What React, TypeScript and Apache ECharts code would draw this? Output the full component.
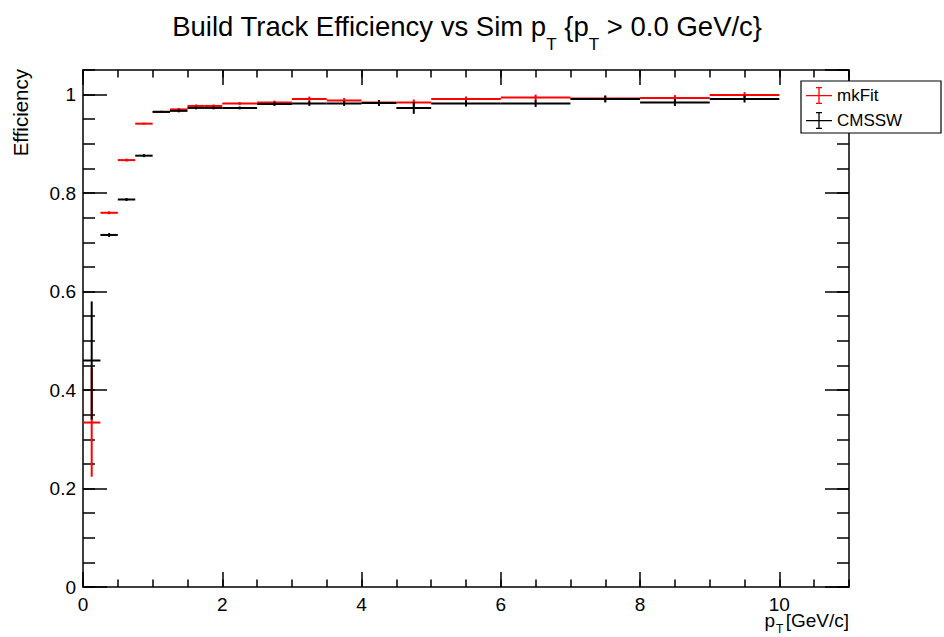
import React, { useEffect, useRef } from 'react';
import * as echarts from 'echarts';

// Bin edges (GeV/c)
const binLow = [0, 0.25, 0.5, 0.75, 1.0, 1.25, 1.5, 1.75, 2.0, 2.5, 3.0, 3.5, 4.0, 4.5, 5, 6, 7, 8, 9];
const binHigh = [0.25, 0.5, 0.75, 1.0, 1.25, 1.5, 1.75, 2.0, 2.5, 3.0, 3.5, 4.0, 4.5, 5.0, 6, 7, 8, 9, 10];

// mkFit efficiency and errors
const mkFitEff = [0.334, 0.760, 0.867, 0.941, 0.965, 0.970, 0.977, 0.977, 0.982, 0.984, 0.991, 0.988, 0.984, 0.984, 0.991, 0.994, 0.992, 0.993, 0.999];
const mkFitErr = [0.110, 0.003, 0.003, 0.002, 0.002, 0.003, 0.003, 0.003, 0.003, 0.004, 0.005, 0.005, 0.005, 0.006, 0.005, 0.006, 0.006, 0.006, 0.006];

// CMSSW efficiency and errors
const cmsswEff = [0.460, 0.715, 0.787, 0.876, 0.965, 0.967, 0.973, 0.973, 0.973, 0.981, 0.982, 0.982, 0.983, 0.973, 0.982, 0.982, 0.991, 0.984, 0.991];
const cmsswErr = [0.120, 0.004, 0.003, 0.003, 0.002, 0.003, 0.003, 0.003, 0.003, 0.004, 0.005, 0.005, 0.006, 0.012, 0.006, 0.007, 0.007, 0.007, 0.007];

const seriesNames = ['mkFit', 'CMSSW'];
const seriesColors = ['#ff0000', '#000000'];

const FONT = '"Liberation Sans", Arial, Helvetica, sans-serif';

const LEGEND_ICON =
  'path://M0,7.9h26v1.3H0z M12.35,0h1.3v17h-1.3z M10,0h6v1.2h-6z M10,15.8h6v1.2h-6z';

function buildData(eff: number[], err: number[]) {
  return eff.map((v, i) => [binLow[i], binHigh[i], v, err[i]]);
}

function makeRenderItem(color: string) {
  return (params: any, api: any) => {
    const lo = api.value(0);
    const hi = api.value(1);
    const v = api.value(2);
    const e = api.value(3);
    const mid = (lo + hi) / 2;
    const pL = api.coord([lo, v]);
    const pR = api.coord([hi, v]);
    const pT = api.coord([mid, v + e]);
    const pB = api.coord([mid, v - e]);
    return {
      type: 'group',
      children: [
        {
          type: 'line',
          shape: { x1: pL[0], y1: pL[1], x2: pR[0], y2: pR[1] },
          style: { stroke: color, lineWidth: 2 },
        },
        {
          type: 'line',
          shape: { x1: pT[0], y1: pT[1], x2: pB[0], y2: pB[1] },
          style: { stroke: color, lineWidth: 2 },
        },
      ],
    };
  };
}

function xAxisDef(position: 'bottom' | 'top', major: boolean) {
  return {
    type: 'value',
    position,
    min: 0,
    max: 11,
    interval: major ? 2 : 0.5,
    axisLine: { show: major, onZero: false, lineStyle: { color: '#000', width: 1.5 } },
    axisTick: { show: true, inside: true, length: major ? 15 : 7.5, lineStyle: { color: '#000', width: 1.5 } },
    axisLabel: {
      show: major && position === 'bottom',
      fontSize: 19,
      color: '#000',
      margin: 8,
      fontFamily: FONT,
      showMaxLabel: false,
    },
    splitLine: { show: false },
  };
}

function yAxisDef(position: 'left' | 'right', major: boolean) {
  return {
    type: 'value',
    position,
    min: 0,
    max: 1.05,
    interval: major ? 0.2 : 0.05,
    axisLine: { show: major, onZero: false, lineStyle: { color: '#000', width: 1.5 } },
    axisTick: { show: true, inside: true, length: major ? 24 : 12, lineStyle: { color: '#000', width: 1.5 } },
    axisLabel: {
      show: major && position === 'left',
      fontSize: 19,
      color: '#000',
      margin: 7,
      fontFamily: FONT,
      showMaxLabel: false,
    },
    splitLine: { show: false },
  };
}

export default function App() {
  const ref = useRef<HTMLDivElement>(null);

  useEffect(() => {
    if (!ref.current) return;
    const chart = echarts.init(ref.current, undefined, { renderer: 'svg' });
    const option: any = {
      animation: false,
      backgroundColor: '#fff',
      grid: { left: 83, right: 95, top: 70, bottom: 50, containLabel: false },
      xAxis: [
        xAxisDef('bottom', true),
        xAxisDef('bottom', false),
        xAxisDef('top', true),
        xAxisDef('top', false),
      ],
      yAxis: [
        yAxisDef('left', true),
        yAxisDef('left', false),
        yAxisDef('right', true),
        yAxisDef('right', false),
      ],
      legend: {
        show: true,
        left: 801,
        top: 81,
        orient: 'vertical',
        padding: [6, 5, 4, 5],
        itemWidth: 26,
        itemHeight: 17,
        itemGap: 8,
        borderWidth: 0,
        backgroundColor: 'transparent',
        z: 10,
        textStyle: { fontSize: 17, color: '#000', fontFamily: FONT },
        itemStyle: { borderWidth: 0 },
        data: seriesNames.map((n) => ({ name: n, icon: LEGEND_ICON })),
      },
      graphic: [
        {
          type: 'rect',
          z: 5,
          shape: { x: 801, y: 81, width: 140, height: 52 },
          style: { fill: '#fff', stroke: '#000', lineWidth: 1.2 },
        },
        {
          type: 'text',
          x: 467,
          y: 26,
          style: {
            text: '{a|Build Track Efficiency vs Sim p}{s|T}{a| {p}{s|T}{a| > 0.0 GeV/c}}',
            align: 'center',
            verticalAlign: 'middle',
            fontFamily: FONT,
            fontSize: 27.5,
            fill: '#000',
            rich: {
              a: { fontSize: 27.5, fontFamily: FONT, fill: '#000' },
              s: { fontSize: 17, fontFamily: FONT, fill: '#000', padding: [36, 0, 0, 0] },
            },
          },
        },
        // x-axis title: p_T [GeV/c]
        {
          type: 'text',
          x: 849,
          y: 620,
          style: {
            text: '[GeV/c]',
            align: 'right',
            verticalAlign: 'middle',
            fontFamily: FONT,
            fontSize: 19,
            fill: '#000',
          },
        },
        {
          type: 'text',
          x: 776,
          y: 629,
          style: {
            text: 'T',
            align: 'left',
            verticalAlign: 'middle',
            fontFamily: FONT,
            fontSize: 12,
            fill: '#000',
          },
        },
        {
          type: 'text',
          x: 775,
          y: 620,
          style: {
            text: 'p',
            align: 'right',
            verticalAlign: 'middle',
            fontFamily: FONT,
            fontSize: 19,
            fill: '#000',
          },
        },
        {
          type: 'text',
          x: 20,
          y: 69,
          rotation: Math.PI / 2,
          style: {
            text: 'Efficiency',
            align: 'right',
            verticalAlign: 'middle',
            fontFamily: FONT,
            fontSize: 20.5,
            fill: '#000',
          },
        },
      ],
      series: [
        {
          name: seriesNames[0],
          type: 'custom',
          xAxisIndex: 0,
          yAxisIndex: 0,
          itemStyle: { color: seriesColors[0] },
          encode: { x: [0, 1], y: [2] },
          renderItem: makeRenderItem(seriesColors[0]),
          data: buildData(mkFitEff, mkFitErr),
          z: 3,
        },
        {
          name: seriesNames[1],
          type: 'custom',
          xAxisIndex: 0,
          yAxisIndex: 0,
          itemStyle: { color: seriesColors[1] },
          encode: { x: [0, 1], y: [2] },
          renderItem: makeRenderItem(seriesColors[1]),
          data: buildData(cmsswEff, cmsswErr),
          z: 4,
        },
      ],
    };
    chart.setOption(option);
    return () => chart.dispose();
  }, []);

  return (
    <div
      ref={ref}
      style={{ position: 'absolute', left: 0, top: 0, width: 944, height: 637, background: '#fff' }}
    />
  );
}
